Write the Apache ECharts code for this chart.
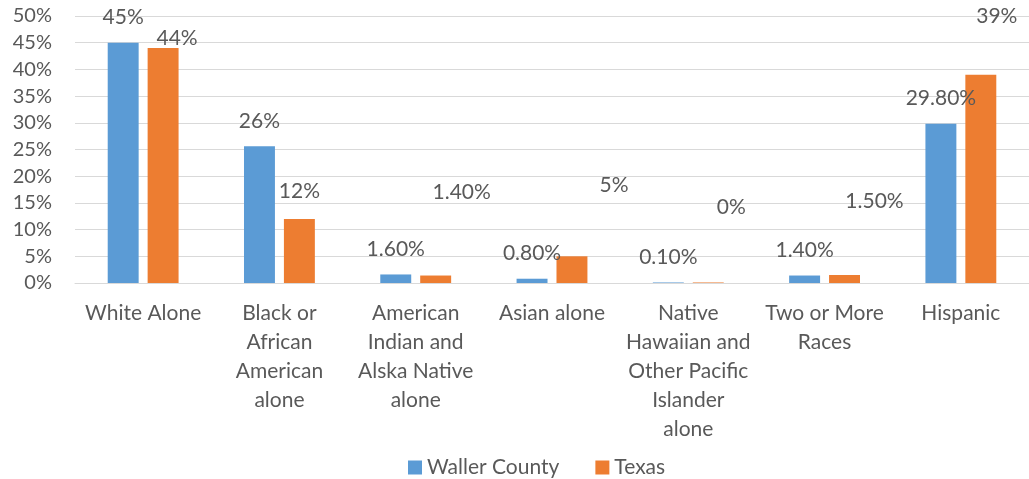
<!DOCTYPE html>
<html>
<head>
<meta charset="utf-8">
<script src="https://cdn.jsdelivr.net/npm/echarts@6/dist/echarts.min.js"></script>
<style>html,body{margin:0;padding:0;background:#fff;}#c{width:1029px;height:479px;}</style>
</head>
<body>
<div id="c"></div>
<script>
const categories = [
  "White Alone",
  "Black or\nAfrican\nAmerican\nalone",
  "American\nIndian and\nAlska Native\nalone",
  "Asian alone",
  "Native\nHawaiian and\nOther Pacific\nIslander\nalone",
  "Two or More\nRaces",
  "Hispanic"
];
const wallerValues = [45, 25.6, 1.6, 0.8, 0.1, 1.4, 29.8];
const texasValues = [44, 12, 1.4, 5, 0.1, 1.5, 39];
const wallerLabels = ["45%", "26%", "1.60%", "0.80%", "0.10%", "1.40%", "29.80%"];
const texasLabels = ["44%", "12%", "1.40%", "5%", "0%", "1.50%", "39%"];
const yTicks = [0, 50, 5];

// label displacement (layout only) for the Texas labels as placed in the original
const texasLabelShift = [[14, 16], [0, -2], [26, -58], [42, -46], [23, -50], [30, -48], [16, -33]];

const FONT = "Lato";
const TXT = "#595959";

const chart = echarts.init(document.getElementById('c'));
chart.setOption({
  animation: false,
  textStyle: { fontFamily: FONT },
  grid: { left: 75, right: -8, top: 16, bottom: 196, containLabel: false },
  legend: {
    data: ["Waller County", "Texas"],
    left: 403, top: 452,
    icon: 'rect', itemWidth: 14, itemHeight: 14, itemGap: 36,
    textStyle: { color: TXT, fontSize: 21, fontFamily: FONT }
  },
  xAxis: {
    type: 'category',
    data: categories,
    axisLine: { lineStyle: { color: '#d9d9d9', width: 1 } },
    axisTick: { show: false },
    axisLabel: { color: TXT, fontSize: 21, lineHeight: 29, margin: 16, interval: 0, fontFamily: FONT }
  },
  yAxis: {
    type: 'value',
    min: yTicks[0], max: yTicks[1], interval: yTicks[2],
    axisLine: { show: false },
    axisTick: { show: false },
    splitLine: { lineStyle: { color: '#d9d9d9', width: 1 } },
    axisLabel: { color: TXT, fontSize: 20, margin: 23, formatter: '{value}%', fontFamily: FONT }
  },
  series: [
    {
      name: "Waller County", type: 'bar',
      barGap: '29%', barCategoryGap: '48%',
      itemStyle: { color: '#5B9BD5' },
      data: wallerValues,
      label: {
        show: true, position: 'top', distance: 15,
        color: TXT, fontSize: 21, fontFamily: FONT,
        formatter: p => wallerLabels[p.dataIndex]
      }
    },
    {
      name: "Texas", type: 'bar',
      barGap: '29%', barCategoryGap: '48%',
      itemStyle: { color: '#ED7D31' },
      data: texasValues.map((v, i) => ({
        value: v,
        label: { offset: texasLabelShift[i] }
      })),
      label: {
        show: true, position: 'top', distance: 15,
        color: TXT, fontSize: 21, fontFamily: FONT,
        formatter: p => texasLabels[p.dataIndex]
      }
    }
  ]
});
</script>
</body>
</html>
